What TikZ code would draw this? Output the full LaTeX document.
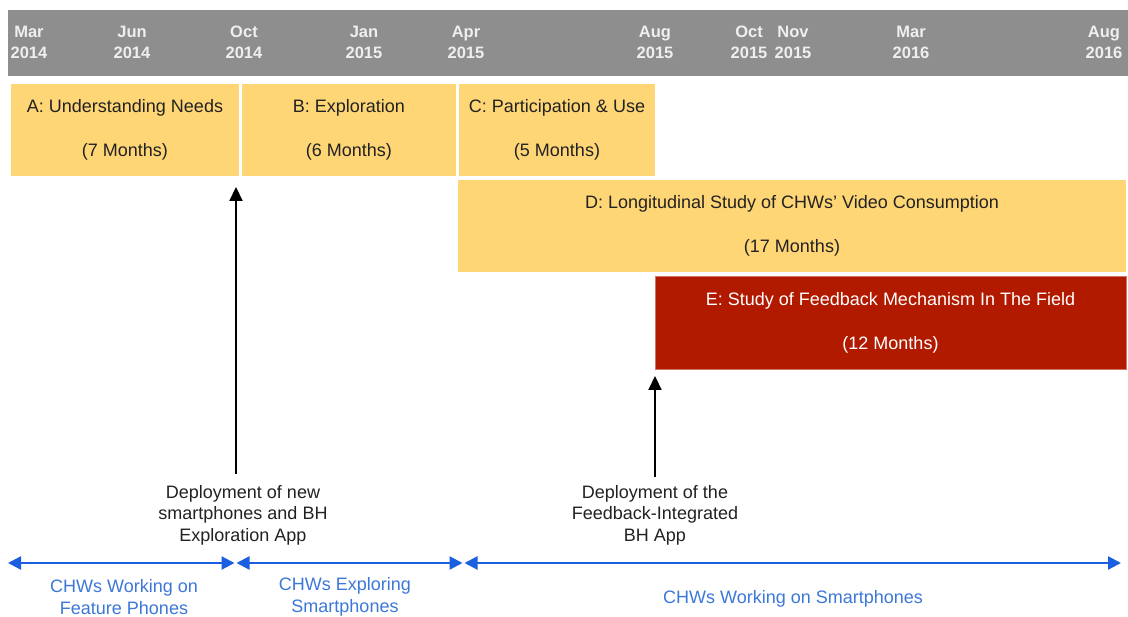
\documentclass[tikz,border=0pt]{standalone}
\usepackage{fontspec}
\setmainfont{Liberation Sans}
\usetikzlibrary{arrows.meta}
\definecolor{hdr}{HTML}{8E8E8E}
\definecolor{hdrtxt}{HTML}{EFEFEF}
\definecolor{ylw}{HTML}{FED675}
\definecolor{rd}{HTML}{B21A00}
\definecolor{bl}{HTML}{1A5FE0}
\definecolor{bltxt}{HTML}{3C78D8}
\definecolor{ink}{HTML}{222222}
\begin{document}
\begin{tikzpicture}[x=1pt,y=-1pt,
  month/.style={font=\fontsize{16.5}{21}\selectfont\bfseries, text=hdrtxt, align=center, inner sep=0pt},
  phase/.style={fill=ylw, font=\fontsize{18}{44}\selectfont, align=center, inner sep=0pt, text=ink, minimum height=92pt},
  redphase/.style={phase, fill=rd, text=white, draw=rd!60!white, line width=0.6pt},
  note/.style={font=\fontsize{18}{21.5}\selectfont, align=center, inner sep=0pt, text=ink},
  period/.style={font=\fontsize{18}{22.5}\selectfont, align=center, inner sep=0pt, text=bltxt},
  deparrow/.style={line width=2.2pt, black, -{Triangle[width=13pt,length=14pt]}},
  span/.style={line width=2.3pt, bl, {Triangle[width=13pt,length=13pt]}-{Triangle[width=13pt,length=13pt]}}]
\useasboundingbox (0,0) rectangle (1128,617);
\fill[white] (0,0) rectangle (1128,617);

% header bar
\fill[hdr] (8,10) rectangle (1128,76);
\node[month] (m1) at (29,42.5) {Mar\\2014};
\node[month] (m2) at (132,42.5) {Jun\\2014};
\node[month] (m3) at (244,42.5) {Oct\\2014};
\node[month] (m4) at (364,42.5) {Jan\\2015};
\node[month] (m5) at (466,42.5) {Apr\\2015};
\node[month] (m6) at (655,42.5) {Aug\\2015};
\node[month] (m7) at (749,42.5) {Oct\\2015};
\node[month] (m8) at (793,42.5) {Nov\\2015};
\node[month] (m9) at (911,42.5) {Mar\\2016};
\node[month] (m10) at (1104,42.5) {Aug\\2016};

% phases
\node[phase, minimum width=228pt] (A) at (125,130) {A: Understanding Needs\\(7 Months)};
\node[phase, minimum width=214pt] (B) at (349,130) {B: Exploration\\(6 Months)};
\node[phase, minimum width=196pt] (C) at (557,130) {C: Participation \& Use\\(5 Months)};
\node[phase, minimum width=668pt] (D) at (792,226) {D: Longitudinal Study of CHWs’ Video Consumption\\(17 Months)};
\node[redphase, minimum width=471pt, minimum height=93pt] (E) at (890.5,322.5) {E: Study of Feedback Mechanism In The Field\\(12 Months)};

% deployments
\node[note] (dep1) at (243,515) {Deployment of new\\smartphones and BH\\Exploration App};
\node[note] (dep2) at (655,515) {Deployment of the\\Feedback-Integrated\\BH App};
\coordinate (t1s) at (236,474);
\coordinate (t1e) at (236,187);
\coordinate (t2s) at (655,477);
\coordinate (t2e) at (655,376);
\draw[deparrow] (t1s) -- (t1e);
\draw[deparrow] (t2s) -- (t2e);

% periods
\coordinate (p0) at (8,563);
\coordinate (p1a) at (234.5,563);
\coordinate (p1b) at (236.5,563);
\coordinate (p2a) at (462.5,563);
\coordinate (p2b) at (464.5,563);
\coordinate (p3) at (1121,563);
\draw[span] (p0) -- (p1a);
\draw[span] (p1b) -- (p2a);
\draw[span] (p2b) -- (p3);
\node[period] (w1) at (124,597) {CHWs Working on\\Feature Phones};
\node[period] (w2) at (345,597) {CHWs Exploring\\Smartphones};
\node[period] (w3) at (793,599) {CHWs Working on Smartphones};
\end{tikzpicture}
\end{document}
